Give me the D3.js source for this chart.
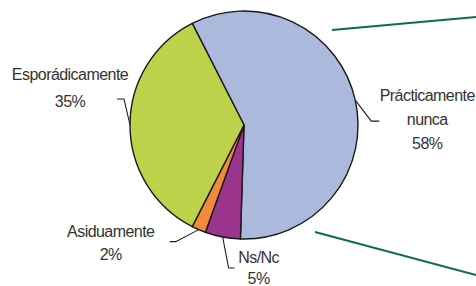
<!DOCTYPE html>
<html>
<head>
<meta charset="utf-8">
<script src="https://cdn.jsdelivr.net/npm/d3@7"></script>
<style>
  body { margin: 0; background: #fff; }
  text { font-family: "Liberation Sans", Arial, sans-serif; font-size: 16px; fill: #333; letter-spacing: -0.55px; }
</style>
</head>
<body>
<svg width="476" height="286"></svg>
<script>
// data, clockwise from the top-left edge
var categories = ["Prácticamente nunca", "Ns/Nc", "Asiduamente", "Esporádicamente"];
var values = [58, 5, 2, 35];
var labelLines = [["Prácticamente", "nunca", "58%"], ["Ns/Nc", "5%"], ["Asiduamente", "2%"], ["Esporádicamente", "35%"]];
var colors = ["#aab9dc", "#9b358d", "#f08a3c", "#bed14a"];

var svg = d3.select("svg");
var cx = 244, cy = 125, r = 114;

// green zoom lines to the right
var zoomLines = [[[332, 30], [476, 17]], [[315, 232], [476, 275]]];
svg.selectAll(".zoomline")
    .data(zoomLines)
    .enter().append("line")
    .attr("x1", function(d) { return d[0][0]; })
    .attr("y1", function(d) { return d[0][1]; })
    .attr("x2", function(d) { return d[1][0]; })
    .attr("y2", function(d) { return d[1][1]; })
    .attr("stroke", "#0b6e46")
    .attr("stroke-width", 2);

var pie = d3.pie()
    .sort(null)
    .startAngle(-27 * Math.PI / 180)
    .endAngle(333 * Math.PI / 180);

var arcs = pie(values);

var arc = d3.arc().innerRadius(0).outerRadius(r);
var edge = d3.arc().innerRadius(r).outerRadius(r);

var g = svg.append("g").attr("transform", "translate(" + cx + "," + cy + ")");

g.selectAll("path")
    .data(arcs)
    .enter().append("path")
    .attr("d", arc)
    .attr("fill", function(d, i) { return colors[i]; })
    .attr("stroke", "#1a1a1a")
    .attr("stroke-width", 1.4)
    .attr("stroke-linejoin", "round");

// leader line bends, relative to the point on the rim
var bends = [
    [[16, 21], [24, 21]],
    [[6, 31], [12, 31]],
    [[-23, 12], [-29, 12]],
    [[-6, -26], [-13, -26]]
];
// label anchor, relative to rim point: [dx, dy of first baseline, line height]
var labelPos = [
    [72, 1, 24],
    [36, 26, 21],
    [-88, 7, 23],
    [-60, -45, 27]
];

arcs.forEach(function(a, i) {
    var p = edge.centroid(a);
    var pts = [p].concat(bends[i].map(function(b) { return [p[0] + b[0], p[1] + b[1]]; }));
    g.append("path")
        .attr("d", d3.line()(pts))
        .attr("fill", "none")
        .attr("stroke", "#1a1a1a")
        .attr("stroke-width", 1.1);

    var t = g.append("text")
        .attr("text-anchor", "middle");
    t.selectAll("tspan")
        .data(labelLines[i])
        .enter().append("tspan")
        .attr("x", p[0] + labelPos[i][0])
        .attr("y", function(d, j) { return p[1] + labelPos[i][1] + j * labelPos[i][2]; })
        .text(function(d) { return d; });
});
</script>
</body>
</html>
